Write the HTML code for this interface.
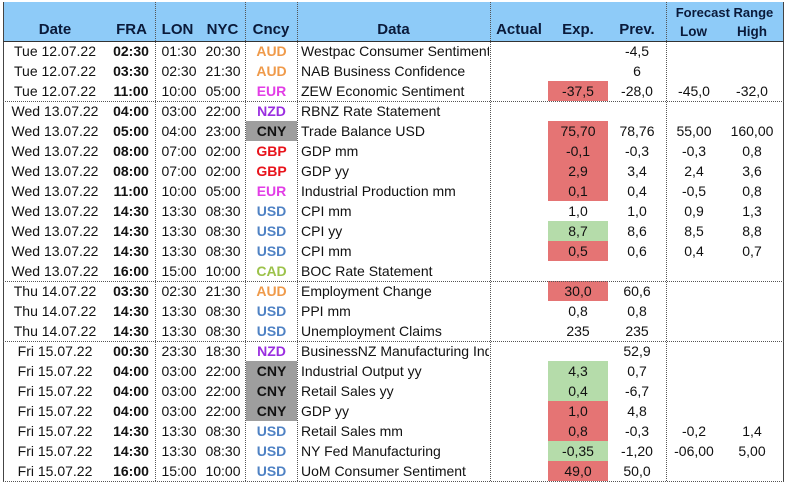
<!DOCTYPE html>
<html><head><meta charset="utf-8"><style>
body{margin:0;width:787px;height:483px;background:#fff;font-family:"Liberation Sans",Arial,sans-serif;position:relative;overflow:hidden}
.c{position:absolute;height:20px;line-height:20px;font-size:14px;color:#111;white-space:nowrap;overflow:hidden}
.h{position:absolute;font-weight:bold;font-size:15px;color:#0a1a3a}
.vl{position:absolute;top:0;width:0;border-left:1px dotted #555}
.hl{position:absolute;left:3px;width:781px;height:0;border-top:1px dotted #555}
</style></head><body>
<div style="position:absolute;left:3px;top:2px;width:781px;height:39px;background:#8ecbf8"></div>
<div id="t"></div>
<script>
const dates=["Tue 12.07.22","Tue 12.07.22","Tue 12.07.22","Wed 13.07.22","Wed 13.07.22","Wed 13.07.22","Wed 13.07.22","Wed 13.07.22","Wed 13.07.22","Wed 13.07.22","Wed 13.07.22","Wed 13.07.22","Thu 14.07.22","Thu 14.07.22","Thu 14.07.22","Fri 15.07.22","Fri 15.07.22","Fri 15.07.22","Fri 15.07.22","Fri 15.07.22","Fri 15.07.22","Fri 15.07.22"];
const fra=["02:30","03:30","11:00","04:00","05:00","08:00","08:00","11:00","14:30","14:30","14:30","16:00","03:30","14:30","14:30","00:30","04:00","04:00","04:00","14:30","14:30","16:00"];
const lon=["01:30","02:30","10:00","03:00","04:00","07:00","07:00","10:00","13:30","13:30","13:30","15:00","02:30","13:30","13:30","23:30","03:00","03:00","03:00","13:30","13:30","15:00"];
const nyc=["20:30","21:30","05:00","22:00","23:00","02:00","02:00","05:00","08:30","08:30","08:30","10:00","21:30","08:30","08:30","18:30","22:00","22:00","22:00","08:30","08:30","10:00"];
const ccy=["AUD","AUD","EUR","NZD","CNY","GBP","GBP","EUR","USD","USD","USD","CAD","AUD","USD","USD","NZD","CNY","CNY","CNY","USD","USD","USD"];
const events=["Westpac Consumer Sentiment","NAB Business Confidence","ZEW Economic Sentiment","RBNZ Rate Statement","Trade Balance USD","GDP mm","GDP yy","Industrial Production mm","CPI mm","CPI yy","CPI mm","BOC Rate Statement","Employment Change","PPI mm","Unemployment Claims","BusinessNZ Manufacturing Index","Industrial Output yy","Retail Sales yy","GDP yy","Retail Sales mm","NY Fed Manufacturing","UoM Consumer Sentiment"];
const expv=["","","-37,5","","75,70","-0,1","2,9","0,1","1,0","8,7","0,5","","30,0","0,8","235","","4,3","0,4","1,0","0,8","-0,35","49,0"];
const expFlag=["","","r","","r","r","r","r","","g","r","","r","","","","g","g","r","r","g","r"];
const prev=["-4,5","6","-28,0","","78,76","-0,3","3,4","0,4","1,0","8,6","0,6","","60,6","0,8","235","52,9","0,7","-6,7","4,8","-0,3","-1,20","50,0"];
const low=["","","-45,0","","55,00","-0,3","2,4","-0,5","0,9","8,5","0,4","","","","","","","","","-0,2","-06,00",""];
const high=["","","-32,0","","160,00","0,8","3,6","0,8","1,3","8,8","0,7","","","","","","","","","1,4","5,00",""];
const ccyColor={AUD:"#ef9a4a",EUR:"#e23ee6",NZD:"#9a2ee0",CNY:"#111",GBP:"#e8141c",USD:"#4f82c4",CAD:"#9cc24a"};
const t=document.getElementById('t');
function cell(x,y,w,txt,align,extra){const d=document.createElement('div');d.className='c';d.style.left=x+'px';d.style.top=y+'px';d.style.width=w+'px';d.style.textAlign=align;if(extra)Object.assign(d.style,extra);d.textContent=txt;t.appendChild(d);return d;}
function hd(x,y,w,txt,name,fs){const d=document.createElement('div');d.className='h';d.style.left=x+'px';d.style.top=y+'px';d.style.width=w+'px';d.style.textAlign='center';if(fs)d.style.fontSize=fs+'px';d.textContent=txt;


t.appendChild(d);}
hd(5,21,100,"Date","header-date");hd(108,21,47,"FRA","header-fra");hd(155,21,45,"LON","header-lon");hd(200,21,45,"NYC","header-nyc");hd(245,21,52,"Cncy","header-cncy");hd(297,21,193,"Data","header-data");hd(490,21,58,"Actual","header-actual");hd(548,21,60,"Exp.","header-exp");hd(608,21,58,"Prev.","header-prev");
hd(666,5,117,"Forecast Range","header-forecast-range",13);hd(666,24,55,"Low","header-low",13.5);hd(721,24,62,"High","header-high",13.5);
const top0=41,rh=20;
for(let i=0;i<dates.length;i++){const y=top0+i*rh;
let c;
c=cell(5,y,100,dates[i],'center');


c=cell(108,y,46,fra[i],'center',{fontWeight:'bold'});


c=cell(157,y,44,lon[i],'center');


c=cell(201,y,44,nyc[i],'center');


const cc=ccy[i];
c=cell(246,y,51,cc,'center',{fontWeight:'bold',color:ccyColor[cc],background:cc==='CNY'?'#9e9e9e':'transparent'});


c=cell(301,y,188,events[i],'left');


const bg=expFlag[i]==='r'?'#e57474':expFlag[i]==='g'?'#b5dcaa':'transparent';
c=cell(548,y,60,expv[i],'center',{background:bg});


c=cell(608,y,58,prev[i],'center');


c=cell(667,y,54,low[i],'center');


c=cell(721,y,62,high[i],'center');


}
function vl(x,y1,y2,solid){const d=document.createElement('div');d.className='vl';d.style.left=x+'px';d.style.top=y1+'px';d.style.height=(y2-y1)+'px';if(solid)d.style.borderLeft='1px solid #444';


t.appendChild(d);}
vl(3,2,481,true);vl(783,2,481,true);vl(155,2,481);vl(245,2,481);vl(297,2,481);vl(490,2,481);vl(666,2,481);
function hl(y,solid){const d=document.createElement('div');d.className='hl';d.style.top=y+'px';if(solid)d.style.borderTop='1px solid #333';


t.appendChild(d);}
hl(41,true);hl(101);hl(281);hl(341);hl(481);
</script>
</body></html>
